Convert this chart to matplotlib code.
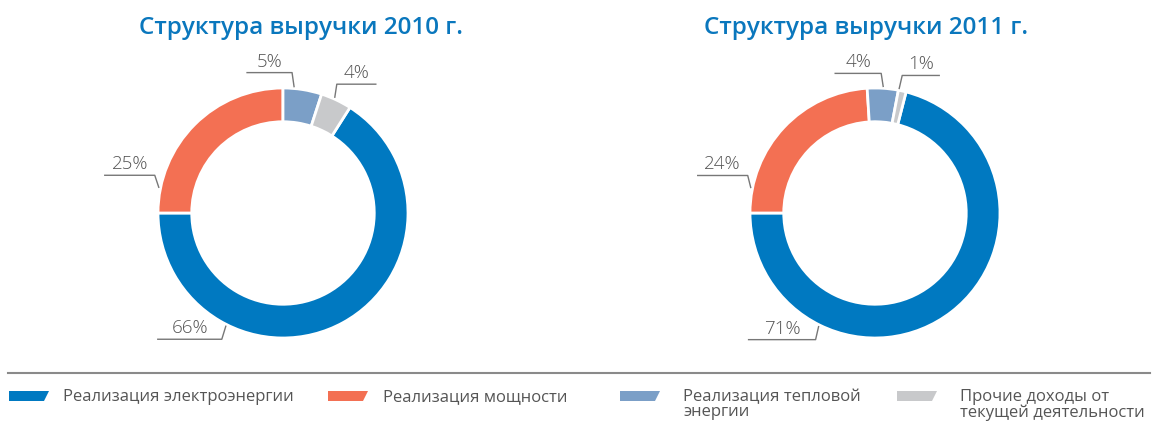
import matplotlib.pyplot as plt
import numpy as np
from matplotlib.patches import Polygon

plt.rcParams['font.family'] = ['Open Sans', 'DejaVu Sans']

categories = ['Реализация электроэнергии', 'Реализация мощности',
              'Реализация тепловой\nэнергии', 'Прочие доходы от\nтекущей деятельности']
titles = ['Структура выручки 2010 г.', 'Структура выручки 2011 г.']
share_2010 = [66, 25, 5, 4]
share_2011 = [71, 24, 4, 1]
colors = ['#0079C1', '#F37053', '#7B9FC7', '#C8C9CB']

W, H = 1158, 421
fig = plt.figure(figsize=(W / 100, H / 100), dpi=100)

# pixel overlay for titles / legend
over = fig.add_axes([0, 0, 1, 1])
over.set_xlim(0, W)
over.set_ylim(H, 0)
over.axis('off')

R_PX = 125
centers = [(283, 213), (875, 213)]
title_x = [301, 866]
# per slice: anchor angle (deg), elbow dx, elbow dy (px, image coords), underline length
label_layout = [
    [(243.2, -4, 13, -64), (168.3, -4, -12, -50), (85.0, -2, -14, -45), (65.9, 2, -13, 39)],
    [(243.6, -3, 13, -67), (168.4, -3, -12, -50), (86.3, -2, -13, -46), (79.0, 3, -13, 37)],
]

for k, vals in enumerate([share_2010, share_2011]):
    cx, cy = centers[k]
    ax = fig.add_axes([(cx - 150) / W, (H - cy - 150) / H, 300 / W, 300 / H])
    ax.pie(vals, colors=colors, startangle=180 + 360 * vals[0] / sum(vals),
           counterclock=False, radius=1,
           wedgeprops=dict(width=0.27, edgecolor='white', linewidth=2))
    ax.set_xlim(-1.2, 1.2)
    ax.set_ylim(-1.2, 1.2)
    ax.axis('off')

    for v, (ang, edx, edy, hl) in zip(vals, label_layout[k]):
        a = np.deg2rad(ang)
        x0, y0 = 1.015 * np.cos(a), 1.015 * np.sin(a)
        x1, y1 = x0 + edx / R_PX, y0 - edy / R_PX
        x2 = x1 + hl / R_PX
        ax.plot([x0, x1, x2], [y0, y1, y1], color='#777777', lw=1, clip_on=False)
        ax.text((x1 + x2) / 2, y1 + 2 / R_PX, f'{v}%', ha='center', va='bottom',
                fontsize=13.5, fontweight='light', color='#555555')

    over.text(title_x[k], 28, titles[k], ha='center', va='center', fontsize=17.5,
              fontweight='semibold', color='#0A77BD')

# legend
over.plot([8, 1150], [373, 373], color='#8A8A8A', lw=1.5)
sw_x = [9, 328, 620, 897]
tx_x = [63, 383, 683, 960]
for c, lab, sx, tx in zip(colors, categories, sw_x, tx_x):
    over.add_patch(Polygon([(sx, 391), (sx + 40, 391), (sx + 35, 401), (sx, 401)],
                           closed=True, facecolor=c, edgecolor='none'))
    over.text(tx, 389, lab, ha='left', va='top', fontsize=12, color='#555555',
              linespacing=0.95)

fig.savefig('out.png', dpi=100)
